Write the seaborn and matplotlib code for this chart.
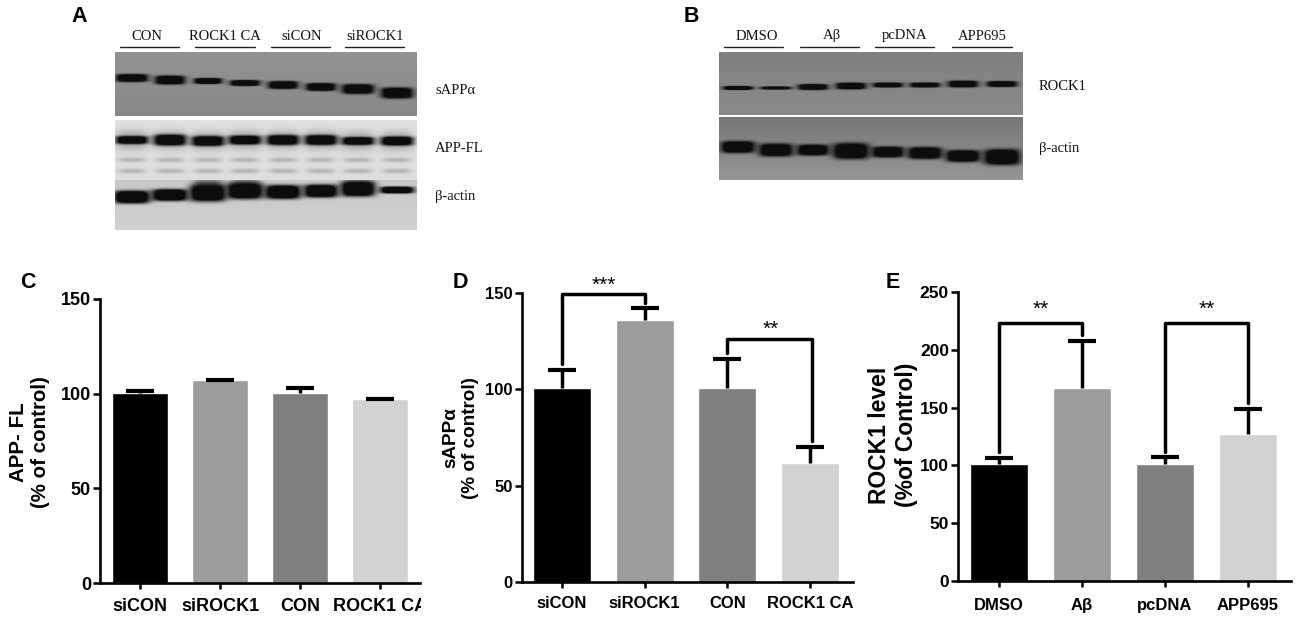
import numpy as np
import pandas as pd
import matplotlib
matplotlib.use("Agg")
import matplotlib.pyplot as plt
from matplotlib.transforms import Bbox, IdentityTransform, TransformedBbox
import seaborn as sns

W, H = 1300, 625

# bar panels
c_labels = ["siCON", "siROCK1", "CON", "ROCK1 CA"]
c_values = [100.5, 107.2, 100.5, 97]
c_errors = [0.7, 0.2, 2.5, 0.2]

d_labels = ["siCON", "siROCK1", "CON", "ROCK1 CA"]
d_values = [100.5, 136, 100.5, 62]
d_errors = [9.5, 6, 15.5, 8]

e_labels = ["DMSO", "Aβ", "pcDNA", "APP695"]
e_values = [101, 167, 101, 127]
e_errors = [5, 41, 6, 22]

bar_colors = ["#000000", "#9c9c9f", "#7f7f7f", "#d2d2d2"]

# blot groups
a_groups = ["CON", "ROCK1 CA", "siCON", "siROCK1"]
b_groups = ["DMSO", "Aβ", "pcDNA", "APP695"]

# blot bands, one per lane: height in the picture, half thickness, half width
a_lanes = [132, 170, 208, 245, 283, 321, 358, 397]
sappa_y = [78, 80, 81, 83, 85, 87, 89, 93]
sappa_h = [4, 4.5, 3, 3, 4, 4, 5, 5.5]
sappa_w = [16, 15, 14, 15, 15, 15, 16, 16]
appfl_y = [140, 140, 141, 140, 140, 140, 141, 141]
appfl_h = [4, 5.5, 5, 4.5, 5, 5, 4, 4.5]
faint_y = [160, 171]
actin_a_y = [197, 195, 193, 191, 192, 191, 189, 190]
actin_a_h = [6.5, 6, 8.5, 8, 7, 6.5, 7.5, 3.5]
actin_a_w = [18, 18, 18, 18, 18, 17, 17, 17]
smudge_lanes = [2, 3, 6]

b_lanes = [738, 776, 813, 851, 888, 925, 963, 1002]
rock1_y = [88, 88, 87, 86, 85, 85, 84, 84]
rock1_h = [2, 1.6, 3, 3.4, 2.5, 2.5, 3.4, 3]
actin_b_y = [147, 150, 150, 151, 152, 153, 156, 157]
actin_b_h = [6, 6.5, 5.5, 8, 5.5, 6, 6, 8]
actin_b_w = [17, 17, 16, 18, 16, 17, 17, 18]


def px_axes(fig, x0, y0, x1, y1):
    return fig.add_axes([x0 / W, 1 - y1 / H, (x1 - x0) / W, (y1 - y0) / H])


def draw_blot(fig, box, bg, lanes, ys, hs, ws, strength=1.5, dark=12, extras=None, bg2=None):
    x0, y0, x1, y1 = box
    xx, yy = np.meshgrid(np.arange(x0, x1) + 0.5, np.arange(y0, y1) + 0.5)
    # slow shading across the membrane
    bg2 = bg if bg2 is None else bg2
    img = bg + (bg2 - bg) * (yy - y0) / (y1 - y0)
    for cx, cy, h, w, k in extras or []:
        a = k * np.exp(-((xx - cx) / w) ** 4 - ((yy - cy) / h) ** 2)
        img = img * (1 - a) + dark * a
    for cx, cy, h, w in zip(lanes, ys, hs, ws):
        a = np.exp(-((xx - cx) / w) ** 4 - ((yy - cy) / h) ** 4)
        a = np.clip(a * strength, 0, 1)
        img = img * (1 - a) + dark * a
    ax = px_axes(fig, x0, y0, x1, y1)
    ax.imshow(img, cmap="gray", vmin=0, vmax=255, aspect="auto", interpolation="bilinear")
    ax.axis("off")


def group_heads(fig, groups, centers, spans, y_text=36, y_line=47):
    for name, c, (a, b) in zip(groups, centers, spans):
        fig.text(c / W, 1 - y_text / H, name, family="Liberation Serif", fontsize=10.5,
                 ha="center", va="center", color="#111111")
        fig.add_artist(plt.Line2D([a / W, b / W], [1 - y_line / H] * 2, color="#222222", lw=1))


def side_label(fig, x, y, text):
    fig.text(x / W, 1 - y / H, text, family="Liberation Serif", fontsize=10.5,
             ha="left", va="center", color="#111111")


def bar_panel(fig, box, labels, values, errors, ymax, yticks, width, tick_fs, x_fs, x_pad):
    ax = px_axes(fig, *box)
    df = pd.DataFrame({"group": labels, "value": values})
    sns.barplot(data=df, x="group", y="value", hue="group", palette=bar_colors, legend=False,
                saturation=1, width=width, ax=ax)
    # upper whisker only, as in Prism
    lines = ax.errorbar(range(len(values)), values, yerr=[np.zeros(len(errors)), errors], fmt="none",
                        ecolor="black", elinewidth=2.5, capsize=10, capthick=3, zorder=3)
    lines[1][0].set_visible(False)
    ax.set_ylim(0, ymax)
    ax.set_yticks(yticks)
    ax.set_xlabel("")
    ax.set_ylabel("")
    sns.despine(ax=ax)
    for s in ["left", "bottom"]:
        ax.spines[s].set_linewidth(1.9)
    ax.tick_params(axis="y", length=5, width=1.8, pad=1.5, labelsize=tick_fs)
    ax.tick_params(axis="x", length=4, width=1.8, pad=x_pad, labelsize=x_fs)
    for t in ax.get_xticklabels() + ax.get_yticklabels():
        t.set_fontweight("bold")
        t.set_family("Liberation Sans")
    ax.patch.set_alpha(0)
    return ax


def bracket(ax, x0, x1, low0, top, low1, star_x, star_y, stars):
    ax.plot([x0, x0, x1, x1], [low0, top, top, low1], color="black", lw=2.5,
            solid_joinstyle="round", clip_on=False, zorder=4)
    ax.text(star_x, star_y, stars, ha="center", va="center", fontsize=15,
            family="Liberation Sans", clip_on=False)


def y_title(fig, x, y, text, fs):
    fig.text(x / W, 1 - y / H, text, rotation=90, ha="center", va="center", ma="center",
             family="Liberation Sans", fontweight="bold", fontsize=fs, linespacing=1.2)


def letter(fig, x, y, s):
    fig.text(x / W, 1 - y / H, s, ha="center", va="center", family="Liberation Sans",
             fontweight="bold", fontsize=15.5)


sns.set_style("ticks", {"text.color": "black", "axes.edgecolor": "black",
                        "xtick.color": "black", "ytick.color": "black"})
plt.rcParams["font.family"] = ["Liberation Sans", "DejaVu Sans"]
fig = plt.figure(figsize=(W / 100, H / 100), dpi=100)

# A
draw_blot(fig, (115, 52, 417, 116), 146, a_lanes, sappa_y, sappa_h, sappa_w, bg2=136)
draw_blot(fig, (115, 120, 417, 180), 226, a_lanes, appfl_y, appfl_h, [16] * 8,
          extras=[(cx, fy, 2.5, 14, 0.2) for cx in a_lanes for fy in faint_y]
          + [(cx, y, 9, 17, 0.35) for cx, y in zip(a_lanes, appfl_y)], bg2=222)
draw_blot(fig, (115, 180, 417, 230), 200, a_lanes, actin_a_y, actin_a_h, actin_a_w,
          extras=[(a_lanes[i], 184, 5, 15, 0.6) for i in smudge_lanes], bg2=208)
group_heads(fig, a_groups, [147, 225, 302, 375], [(120, 179), (195, 255), (271, 330), (345, 404)])
side_label(fig, 435, 90, "sAPPα")
side_label(fig, 435, 148, "APP-FL")
side_label(fig, 435, 197, "β-actin")

# B
draw_blot(fig, (719, 52, 1023, 115), 128, b_lanes, rock1_y, rock1_h, [15] * 8, bg2=138)
draw_blot(fig, (719, 117, 1023, 180), 118, b_lanes, actin_b_y, actin_b_h, actin_b_w, bg2=150)
group_heads(fig, b_groups, [757, 832, 905, 982], [(724, 783), (800, 859), (875, 934), (952, 1012)])
side_label(fig, 1039, 87, "ROCK1")
side_label(fig, 1039, 149, "β-actin")

# C
ax_c = bar_panel(fig, (100, 299, 420, 583), c_labels, c_values, c_errors, 150, [0, 50, 100, 150], 0.71, 13, 13, 6.5)
ax_c.set_xlim(-0.5, 3.5)
clip = TransformedBbox(Bbox([[0, 0], [421, H]]), IdentityTransform())
for t in ax_c.get_xticklabels():
    t.set_clip_box(clip)
    t.set_clip_on(True)
y_title(fig, 30, 442, "APP- FL\n(% of control)", 14.8)

# D
ax_d = bar_panel(fig, (522, 293, 853, 582), d_labels, d_values, d_errors, 150, [0, 50, 100, 150], 0.70, 12, 12, 6)
ax_d.set_xlim(-0.484, 3.52)
bracket(ax_d, 0, 1, 113, 149.5, 145, 0.5, 154, "***")
bracket(ax_d, 2, 3.02, 119, 126, 73, 2.52, 131, "**")
y_title(fig, 461, 438, "sAPPα\n(% of control)", 13.6)

# E
ax_e = bar_panel(fig, (958, 292, 1291, 581), e_labels, e_values, e_errors, 250, [0, 50, 100, 150, 200, 250], 0.70, 12.5, 12, 8)
ax_e.set_xlim(-0.494, 3.52)
bracket(ax_e, 0, 1, 112, 223, 213, 0.5, 235, "**")
bracket(ax_e, 2, 3, 112, 223, 154, 2.5, 235, "**")
y_title(fig, 893, 435, "ROCK1 level\n(%of Control)", 16.5)

for x, y, s in [(79, 17, "A"), (691, 16, "B"), (28, 282, "C"), (460, 282, "D"), (893, 282, "E")]:
    letter(fig, x, y, s)

fig.savefig("out.png", dpi=100)
